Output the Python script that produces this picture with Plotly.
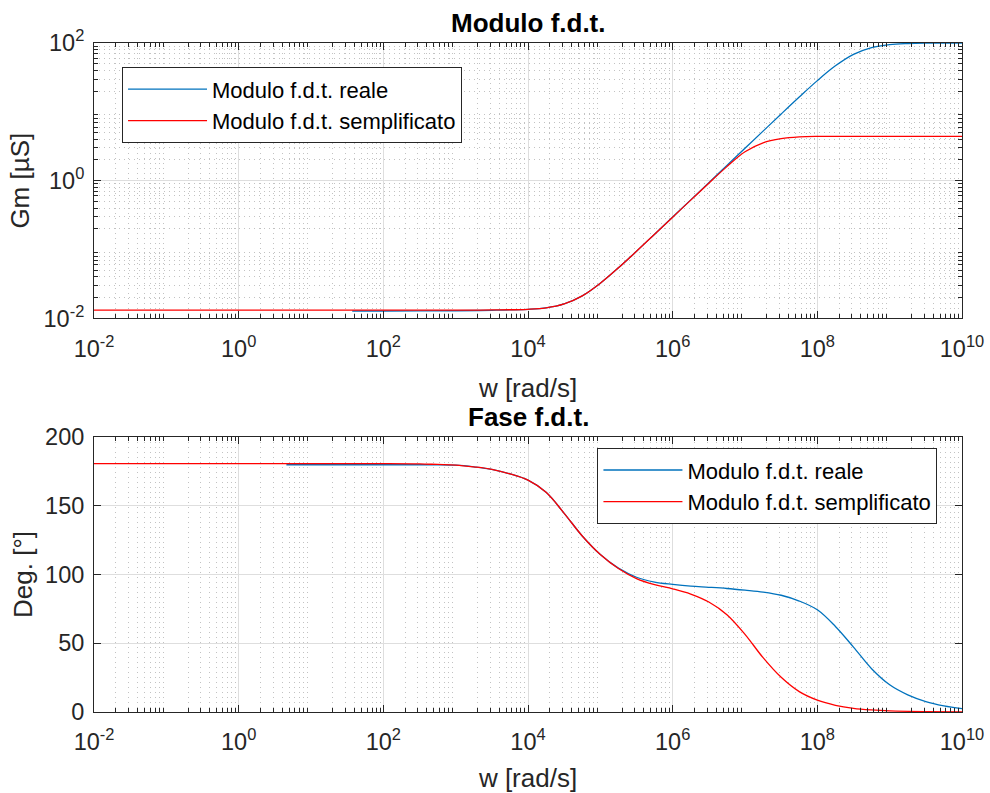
import numpy as np
import plotly.graph_objects as go

# ---- data: log10(w [rad/s]) and readings of each curve ----
mag_reale_logw = [1.57, 2.0, 3.0, 3.5, 4.0, 4.25, 4.5, 4.75, 5.0, 5.25, 5.5, 5.75,
                  6.0, 6.25, 6.5, 6.75, 7.0, 7.25, 7.5, 7.75, 8.0, 8.25, 8.5, 8.75,
                  9.0, 9.25, 9.5, 10.0]
mag_reale = [0.0128, 0.0128, 0.0129, 0.0131, 0.01355, 0.0142, 0.0162, 0.0212, 0.0324,
             0.0542, 0.0944, 0.167, 0.296, 0.526, 0.936, 1.663, 2.96, 5.25, 9.31, 16.4,
             28.4, 46.6, 68.4, 85.9, 94.9, 98.4, 99.7, 100.0]

mag_sempl_logw = [-2.0, 0.0, 2.0, 3.0, 3.5, 4.0, 4.25, 4.5, 4.75, 5.0, 5.25, 5.5, 5.75,
                  6.0, 6.25, 6.5, 6.75, 7.0, 7.25, 7.5, 7.75, 8.0, 8.5, 9.0, 10.0]
mag_sempl = [0.0132, 0.0132, 0.0132, 0.0132, 0.01325, 0.01355, 0.0142, 0.0162, 0.0212,
             0.0324, 0.0542, 0.0944, 0.167, 0.295, 0.522, 0.92, 1.60, 2.63, 3.55, 4.07,
             4.32, 4.40, 4.40, 4.40, 4.40]

fase_reale_logw = [0.66, 2.0, 2.5, 2.75, 3.0, 3.25, 3.5, 3.75, 4.0, 4.25, 4.5, 4.75,
                   5.0, 5.25, 5.5, 5.75, 6.0, 6.25, 6.5, 6.75, 7.0, 7.25, 7.5, 7.75,
                   8.0, 8.25, 8.5, 8.75, 9.0, 9.25, 9.5, 9.75, 10.0]
fase_reale = [179.8, 179.8, 179.8, 179.8, 179.5, 178.3, 176.5, 173.2, 168.6, 159.8, 144.5,
              128.0, 114.5, 104.6, 98.0, 94.5, 92.8, 91.5, 90.7, 89.8, 88.6, 87.2, 84.9,
              80.7, 74.3, 62.2, 47.2, 31.5, 19.8, 12.5, 7.6, 4.5, 2.4]

fase_sempl_logw = [-2.0, 0.0, 2.0, 2.5, 2.75, 3.0, 3.25, 3.5, 3.75, 4.0, 4.25, 4.5, 4.75,
                   5.0, 5.25, 5.5, 5.75, 6.0, 6.25, 6.5, 6.75, 7.0, 7.25, 7.5, 7.75,
                   8.0, 8.25, 8.5, 8.75, 9.0, 9.5, 10.0]
fase_sempl = [180.6, 180.6, 180.6, 180.4, 180.0, 179.6, 178.3, 176.5, 173.2, 168.6, 159.8,
              144.5, 128.0, 114.5, 104.3, 97.0, 92.6, 89.6, 85.8, 80.0, 70.8, 56.5, 39.5,
              25.2, 14.8, 8.6, 4.9, 2.7, 1.5, 0.8, 0.3, 0.15]

serie_nomi = ["Modulo f.d.t. reale", "Modulo f.d.t. semplificato"]

x_exp = [-2, 0, 2, 4, 6, 8, 10]
x_ticktext = ["10<sup>-2</sup>", "10<sup>0</sup>", "10<sup>2</sup>", "10<sup>4</sup>",
              "10<sup>6</sup>", "10<sup>8</sup>", "10<sup>10</sup>"]
gm_exp = [-2, 0, 2]
gm_ticktext = ["10<sup>-2</sup>", "10<sup>0</sup>", "10<sup>2</sup>"]
deg_ticks = [0, 50, 100, 150, 200]

# ---- style ----
BLUE = "#0072BD"
RED = "#FF0000"
AX = "#262626"
GRID = "#DEDEDE"
MINOR = "#C2C2C2"
FONT = "Liberation Sans, Arial, sans-serif"
LW = 1.3


def w(logw):
    return 10 ** np.asarray(logw, dtype=float)


def minor_positions(lo, hi):
    return [k * 10.0 ** d for d in range(lo, hi) for k in range(2, 10)]


fig = go.Figure()

fig.add_trace(go.Scatter(x=w(mag_reale_logw), y=mag_reale, mode="lines",
                         name=serie_nomi[0], line=dict(color=BLUE, width=LW, shape="spline"),
                         xaxis="x", yaxis="y", legend="legend"))
fig.add_trace(go.Scatter(x=w(mag_sempl_logw), y=mag_sempl, mode="lines",
                         name=serie_nomi[1], line=dict(color=RED, width=LW, shape="spline"),
                         xaxis="x", yaxis="y", legend="legend"))
fig.add_trace(go.Scatter(x=w(fase_reale_logw), y=fase_reale, mode="lines",
                         name=serie_nomi[0], line=dict(color=BLUE, width=LW, shape="spline"),
                         xaxis="x2", yaxis="y2", legend="legend2"))
fig.add_trace(go.Scatter(x=w(fase_sempl_logw), y=fase_sempl, mode="lines",
                         name=serie_nomi[1], line=dict(color=RED, width=LW, shape="spline"),
                         xaxis="x2", yaxis="y2", legend="legend2"))

tickfont = dict(family=FONT, size=23.5, color=AX)
titlefont = dict(family=FONT, size=26, color=AX)
legfont = dict(family=FONT, size=22, color="#000000")
minor_grid = dict(ticks="inside", ticklen=4, tickcolor=AX, showgrid=True,
                  gridcolor=MINOR, griddash="1px,4px", gridwidth=1)

common_x = dict(
    type="log", range=[-2, 10], automargin=False,
    tickvals=[10.0 ** e for e in x_exp], ticktext=x_ticktext,
    showline=True, linecolor=AX, linewidth=1, mirror="ticks",
    ticks="inside", ticklen=7, tickcolor=AX, tickwidth=1,
    showgrid=True, gridcolor=GRID, gridwidth=1,
    minor=dict(minor_grid, tickvals=minor_positions(-2, 10)),
    tickfont=tickfont, zeroline=False, ticklabelstandoff=9,
    title=dict(text="w [rad/s]", font=titlefont, standoff=18),
)

common_y = dict(
    automargin=False,
    showline=True, linecolor=AX, linewidth=1, mirror="ticks",
    ticks="inside", ticklen=7, tickcolor=AX,
    showgrid=True, gridcolor=GRID, gridwidth=1,
    tickfont=tickfont, zeroline=False, ticklabelstandoff=4,
)

legend_common = dict(xanchor="left", yanchor="top", bgcolor="white",
                     bordercolor=AX, borderwidth=1, font=legfont,
                     itemwidth=79, tracegroupgap=0)

fig.update_layout(
    width=990, height=793,
    margin=dict(l=94, r=28, t=43, b=81),
    paper_bgcolor="white", plot_bgcolor="white",
    font=dict(family=FONT, color=AX),
    xaxis=dict(common_x, domain=[0, 1], anchor="y"),
    yaxis=dict(
        common_y, type="log", range=[-2, 2], domain=[0.5884, 1], anchor="x",
        tickvals=[10.0 ** e for e in gm_exp], ticktext=gm_ticktext,
        minor=dict(minor_grid, tickvals=minor_positions(-2, 2)),
        title=dict(text="Gm [µS]", font=titlefont, standoff=6),
    ),
    xaxis2=dict(common_x, domain=[0, 1], anchor="y2"),
    yaxis2=dict(
        common_y, range=[0, 200], domain=[0, 0.4111], anchor="x2",
        tickvals=deg_ticks,
        title=dict(text="Deg. [°]", font=titlefont, standoff=4),
    ),
    legend=dict(legend_common, x=0.0323, y=0.9637),
    legend2=dict(legend_common, x=0.580, y=0.3943),
    annotations=[
        dict(text="<b>Modulo f.d.t.</b>", xref="paper", yref="paper",
             x=0.5, y=1.0, yshift=3, xanchor="center", yanchor="bottom",
             showarrow=False, font=dict(family=FONT, size=26, color="#000000")),
        dict(text="<b>Fase f.d.t.</b>", xref="paper", yref="paper",
             x=0.5, y=0.4111, yshift=3, xanchor="center", yanchor="bottom",
             showarrow=False, font=dict(family=FONT, size=26, color="#000000")),
    ],
    showlegend=True,
)

fig.write_html("out.html")
